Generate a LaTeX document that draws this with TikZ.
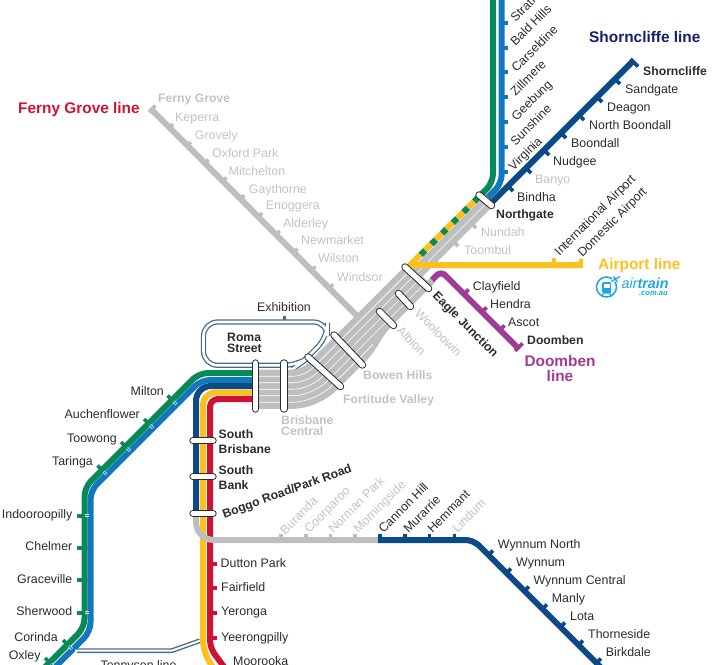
\documentclass[tikz,border=0pt]{standalone}
\usepackage{fontspec}
\setmainfont{Liberation Sans}
\definecolor{railgrey}{HTML}{BCBEC0}
\definecolor{labelgrey}{HTML}{C2C2C2}
\definecolor{railnavy}{HTML}{0B4A85}
\definecolor{railblue}{HTML}{1377BD}
\definecolor{railgreen}{HTML}{078A57}
\definecolor{railyellow}{HTML}{FDC11F}
\definecolor{railred}{HTML}{CE1237}
\definecolor{railpurple}{HTML}{A23B97}
\definecolor{railslate}{HTML}{4A6D85}
\definecolor{airblue}{HTML}{1AA7E4}
\definecolor{inkdark}{HTML}{2B2B2B}
\definecolor{titlenavy}{HTML}{15206B}
\tikzset{
  track/.style={line width=6pt},
  tick/.style={line width=3.6pt},
  stn/.style={font=\fontsize{12.4}{14}\selectfont, text=inkdark, inner sep=0pt,
    text height=11pt, text depth=2.7pt},
  stnbold/.style={stn, font=\fontsize{12.2}{14}\selectfont\bfseries},
  stngrey/.style={stn, text=labelgrey},
  greybold/.style={stnbold, text=labelgrey},
  linename/.style={font=\fontsize{15.4}{15.4}\selectfont\bfseries, inner sep=0pt, align=center},
  interchange/.style={draw=inkdark, line width=1pt, double=white, double distance=5.4pt, line cap=round},
}
\begin{document}
\begin{tikzpicture}[x=1pt, y=-1pt]
\useasboundingbox (0,0) rectangle (712,664);
\clip (0,0) rectangle (712,664);

% Roma Street loop
\draw [railslate, line width=5.2pt, rounded corners=14pt] (203.5,322) -- (327.5,322) -- (327.5,337) -- (304,361) -- (298,365.3) -- (203.5,365.3) -- cycle;
\draw [white, line width=2.6pt, rounded corners=14pt] (203.5,322) -- (327.5,322) -- (327.5,337) -- (304,361) -- (298,365.3) -- (203.5,365.3) -- cycle;
\draw [railslate, line width=3pt] (284,316) -- (284,320);
\node [stn, anchor=center] (exhibition) at (284,307) {Exhibition};

% Ferny Grove branch
\draw [railgrey, track] (151.5,109.5) -- (359,318);
\draw [railgrey, tick] (149,112) -- (155.5,105.5);
\foreach \i in {0,...,9}
  \draw [railgrey, tick] (169+17.8*\i,128+17.8*\i) -- ++(4,-4);

% Grey corridor
\foreach \i/\xe in {0/410,1/488,2/492.5,3/425,4/433} {
  \pgfmathsetmacro\yy{373+6.5*\i}
  \pgfmathsetmacro\ss{676+9.2*\i}
  \pgfmathsetmacro\rr{10+2.7*\i}
  \draw [railgrey, line width=6.8pt, rounded corners=\rr pt] (255,\yy) -- (\ss-\yy,\yy) -- (\xe,\ss-\xe);
}
\draw [railgrey, line width=6.8pt, rounded corners=23.5pt] (255,405.5) -- (316.5,405.5) -- (364,358);
\draw [railgrey, line width=6.8pt] (364,358) .. controls (376,346) and (376,337) .. (392,320.8);
\foreach \i/\xe in {0/410,1/488,2/420,3/425,4/373} {
  \pgfmathsetmacro\yy{376.25+6.5*\i}
  \pgfmathsetmacro\ss{680.6+9.2*\i}
  \pgfmathsetmacro\rr{11.4+2.7*\i}
  \draw [white, line width=0.6pt, rounded corners=\rr pt] (258,\yy) -- (\ss-\yy,\yy) -- (\xe,\ss-\xe);
}
\foreach \px/\py in {471/223,453/241}
  \draw [railgrey, tick] (\px,\py) -- ++(5,5);

% Western lines
\draw [railgreen, track, rounded corners=9pt] (255,373) -- (199,373) -- (84.5,487.5) -- (84.5,627.5) -- (40,672);
\draw [railblue, track, rounded corners=9pt] (255,380) -- (201,380) -- (90.5,490.5) -- (90.5,631.5) -- (50,672);
\foreach \px/\py in {172/400,148.5/423.5,125.5/446.5,102/470,67.5/644.5,49.5/662.5} {
  \draw [railgreen, tick] (\px,\py) -- ++(-4.5,-4.5);
  \draw [white, line width=2.6pt] (\px+4.5,\py+4.5) -- (\px+1.5,\py+1.5);
  \draw [railblue, line width=1.4pt] (\px+4.5,\py+4.5) -- (\px+1.5,\py+1.5);
}
\foreach \py in {515.7,548,580,612.7} {
  \draw [railgreen, tick] (84,\py) -- (77,\py);
  \draw [white, line width=2.6pt] (89,\py) -- (84.5,\py);
  \draw [railblue, line width=1.4pt] (89,\py) -- (84.5,\py);
}

% Tennyson line
\draw [railslate, line width=4.8pt, rounded corners=1pt] (77,650.7) -- (171.7,650.7) -- (200,640.7);
\draw [white, line width=2pt, rounded corners=1pt] (75,650.7) -- (171.7,650.7) -- (202,640);

% Southern lines
\draw [railyellow, track, rounded corners=12pt] (255,392.5) -- (203,392.5) -- (203,652) -- (216,672);
\draw [railred, track, rounded corners=8pt] (255,399) -- (210,399) -- (210,648) -- (228,672);
\foreach \py in {563.7,588,612.7,638}
  \draw [railred, tick] (210,\py) -- (217,\py);
\draw [railgrey, track, rounded corners=18pt] (196,510) -- (196,540) -- (380,540);
\draw [railnavy, track, rounded corners=15pt] (255,386) -- (196,386) -- (196,516);
\draw [railnavy, track, rounded corners=8pt] (378,540) -- (473.5,540) -- (610,676.5);
\draw [railnavy, tick] (380,541) -- (380,534);
\foreach \px in {280.7,305.7,330.3,355}
  \draw [railgrey, tick] (\px,540) -- (\px,534);
\foreach \px in {405,429.3,454.3}
  \draw [railnavy, tick] (\px,540) -- (\px,534);
\foreach \i in {0,...,6}
  \draw [railnavy, tick] (488.5+18*\i,555+18*\i) -- ++(4.5,-4.5);

% Northern lines
\draw [railgreen, track, rounded corners=9pt] (493,-5) -- (493,182.7) -- (478,197.7);
\draw [railblue, track, rounded corners=9pt] (501.7,-5) -- (501.7,183.5) -- (488,197.2);
\foreach \py in {-2,23,48,72,97,122,147,172}
  \draw [railblue, tick] (501.7,\py) -- ++(6.5,0);
\draw [railnavy, track] (633.5,60.5) -- (492,202);
\draw [railnavy, tick] (630.5,59) -- (638,66.5);
\foreach \px in {508,526,544,561,579,597,615}
  \draw [railnavy, tick] (\px,694-\px) -- ++(5,5);

% Airport line
\draw [railyellow, track, line join=round] (478,197.7) -- (410,265) -- (581,265);
\draw [railgreen, track, dash pattern=on 6pt off 9.1pt] (478.5,197.2) -- (420,255.7);
\draw [railyellow, tick] (554,265) -- (554,258);
\draw [railyellow, tick] (581,267.8) -- (581,259);

% Doomben line
\draw [railpurple, track, rounded corners=6pt] (432,280) -- (441,271) -- (518,348);
\foreach \px/\py in {464/294,482/312,500/330}
  \draw [railpurple, tick] (\px,\py) -- ++(4.5,-4.5);
\draw [railpurple, tick] (515,351) -- (522.5,343.5);

% Interchanges
\draw [interchange] (255.5,363) -- (255.5,409);
\draw [interchange] (284,363) -- (284,409);
\draw [interchange] (308,357) -- (340.5,386.5);
\draw [interchange] (334,335) -- (362.5,365);
\draw [interchange] (379.5,311.5) -- (393.5,325.5);
\draw [interchange] (398.5,293.5) -- (410.5,306.5);
\draw [interchange] (405,267) -- (428.5,288.5);
\draw [interchange] (479,195) -- (491.5,205.5);
\draw [interchange] (193,440.7) -- (213,440.7);
\draw [interchange] (193,476.7) -- (213,476.7);
\draw [interchange] (193,513.3) -- (213,513.3);

% Shorncliffe stations
\node [stnbold, anchor=west] (shorncliffe) at (643,71) {Shorncliffe};
\foreach \px/\py/\name [count=\i] in {625/89/Sandgate,607/107/Deagon,589/125/North Boondall,571/143/Boondall,553/161/Nudgee,517/197/Bindha}
  \node [stn, anchor=west] (shorn\i) at (\px,\py) {\name};
\node [stngrey, anchor=west] (banyo) at (535,179) {Banyo};
\node [stnbold, anchor=west] (northgate) at (496,214) {Northgate};
\node [stngrey, anchor=west] (nundah) at (481,232) {Nundah};
\node [stngrey, anchor=west] (toombul) at (464,250) {Toombul};

% Caboolture side
\foreach \px/\py/\name [count=\i] in {515.5/22.5/Strathpine,515.5/46.5/Bald Hills,516.5/72.5/Carseldine,515.5/96.5/Zillmere,516.5/121.5/Geebung,515.5/146.5/Sunshine,513.5/171.5/Virginia}
  \node [stn, anchor=base west, rotate=45] (north\i) at (\px,\py) {\name};

% Ferny Grove stations
\node [greybold, anchor=west] (fernygrove) at (158,98.3) {Ferny Grove};
\foreach \px/\py/\name [count=\i] in {175/117.7/Keperra,194.7/135.7/Grovely,212/153.3/Oxford Park,228.5/171.7/Mitchelton,248.7/189.3/Gaythorne,265.7/205.3/Enoggera,283/223.3/Alderley,301/240.7/Newmarket,318/258.7/Wilston,337/277/Windsor}
  \node [stngrey, anchor=west] (ferny\i) at (\px,\py) {\name};

% Airport and Doomben stations
\node [stn, anchor=base west, rotate=45] (intl) at (559.5,256.5) {International Airport};
\node [stn, anchor=base west, rotate=45] (dom) at (582.5,257.5) {Domestic Airport};
\foreach \px/\py/\name [count=\i] in {472.7/286.7/Clayfield,490/304/Hendra,508/322/Ascot}
  \node [stn, anchor=west] (doom\i) at (\px,\py) {\name};
\node [stnbold, anchor=west] (doomben) at (527,340) {Doomben};

% Inner city stations
\node [stnbold, anchor=base west, rotate=-45] (eagle) at (432,296.5) {Eagle Junction};
\node [stngrey, anchor=base west, rotate=-45] (wooloowin) at (414,314.5) {Wooloowin};
\node [stngrey, anchor=base west, rotate=-45] (albion) at (396,331.5) {Albion};
\node [greybold, anchor=west] (bowen) at (363,375) {Bowen Hills};
\node [greybold, anchor=west] (fortitude) at (343,399) {Fortitude Valley};
\node [greybold, anchor=north west, align=left, font=\fontsize{12.2}{11.5}\selectfont\bfseries, text height=, text depth=] (central) at (281,415) {Brisbane\\Central};
\node [stnbold, anchor=north west, align=left, font=\fontsize{12.2}{11.5}\selectfont\bfseries, text height=, text depth=] (roma) at (227,332.5) {Roma\\Street};

% Southern stations
\node [stnbold, anchor=north west, align=left, font=\fontsize{12.2}{15}\selectfont\bfseries, text height=, text depth=] (southbris) at (218.5,429) {South\\Brisbane};
\node [stnbold, anchor=north west, align=left, font=\fontsize{12.2}{15}\selectfont\bfseries, text height=, text depth=] (southbank) at (218.5,465) {South\\Bank};
\node [stnbold, rotate=20, anchor=center] (boggo) at (287,491) {Boggo Road/Park Road};
\foreach \px/\py/\name [count=\i] in {220.5/563/Dutton Park,221/587.5/Fairfield,221/611.5/Yeronga,221/637/Yeerongpilly,233/661/Moorooka}
  \node [stn, anchor=west] (south\i) at (\px,\py) {\name};

% Western stations
\foreach \px/\py/\name [count=\i] in {164/391.7/Milton,140/414/Auchenflower,117/438/Toowong,93/461.7/Taringa,72.5/514/Indooroopilly,72.5/546.7/Chelmer,72.5/579/Graceville,72.5/611/Sherwood,58/637/Corinda,40.7/655/Oxley}
  \node [stn, anchor=east] (west\i) at (\px,\py) {\name};
\node [stn, anchor=center] (tennyson) at (138.5,665) {Tennyson line};

% Cleveland stations
\foreach \px/\py/\name [count=\i] in {285.2/535.2/Buranda,309.2/533.5/Coorparoo,333.5/533.5/Norman Park,358.5/533.5/Morningside,457.5/533.5/Lindum}
  \node [stngrey, anchor=base west, rotate=45] (greyeast\i) at (\px,\py) {\name};
\foreach \px/\py/\name [count=\i] in {383.5/533.5/Cannon Hill,408.5/533.5/Murarrie,432.5/533.5/Hemmant}
  \node [stn, anchor=base west, rotate=45] (east\i) at (\px,\py) {\name};
\foreach \px/\py/\name [count=\i] in {497.7/544.3/Wynnum North,516/562.3/Wynnum,533.3/580.3/Wynnum Central,551.7/598.3/Manly,570/616.3/Lota,588/634/Thorneside,605.7/652/Birkdale}
  \node [stn, anchor=west] (bay\i) at (\px,\py) {\name};

% Line names
\node [linename, text=titlenavy, anchor=west] (shornline) at (589,36.7) {Shorncliffe line};
\node [linename, text=railred, anchor=west] (fernyline) at (18,109.5) {Ferny Grove line};
\node [linename, text=railyellow, anchor=west] (airline) at (598,266) {Airport line};
\node [linename, text=railpurple, anchor=center, font=\fontsize{15.4}{15}\selectfont\bfseries] (doomline) at (560,368) {Doomben\\line};

% airtrain logo
\draw [airblue, line width=1.5pt, fill=white] (606.5,287) circle (10);
\fill [airblue, rounded corners=1.5pt] (602,282) rectangle (611,293.5);
\fill [white] (603.5,284) rectangle (609.5,288);
\draw [airblue, line width=1.2pt] (603.5,293.5) -- (601.5,296.5) (609.5,293.5) -- (611.5,296.5);
\draw [white, line width=3.5pt] (611,281.5) -- (620,276.5);
\draw [airblue, line width=1.2pt] (611,281.5) -- (620,276.5) (613.5,276.5) -- (617.5,282);
\node [anchor=west, inner sep=0pt, text=airblue, font=\fontsize{14.3}{14.3}\selectfont\itshape] (airtrain) at (621.5,283) {air\textbf{train}};
\node [anchor=east, inner sep=0pt, text=airblue, font=\fontsize{7.6}{7.6}\selectfont\bfseries\itshape] (aircom) at (668,293.5) {.com.au};

\end{tikzpicture}
\end{document}
